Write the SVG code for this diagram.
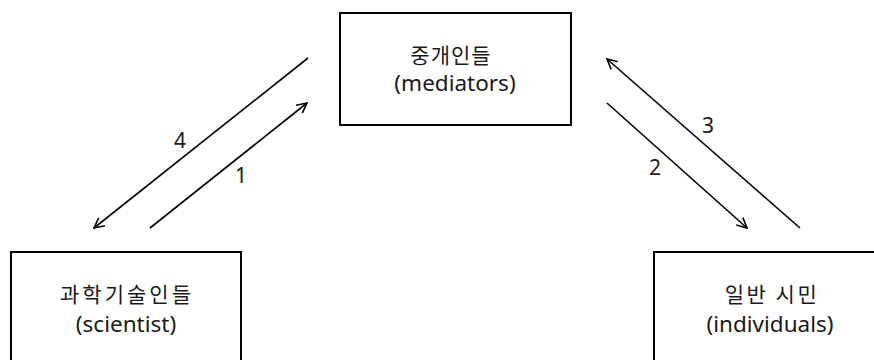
<svg xmlns="http://www.w3.org/2000/svg" width="874" height="360" viewBox="0 0 874 360">
  <style>
    .box { fill: #ffffff; stroke: #000000; stroke-width: 2; }
    .ko { font-family: "Noto Sans CJK KR", "Noto Sans", sans-serif; font-size: 21px; fill: #1a1a1a; text-anchor: middle; }
    .en { font-family: "Noto Sans", "Noto Sans CJK KR", sans-serif; font-size: 22.5px; fill: #1a1a1a; text-anchor: middle; }
    .num { font-family: "Noto Sans", "Noto Sans CJK KR", sans-serif; font-size: 21px; fill: #1a1a1a; text-anchor: middle; }
    .conn { stroke: #000000; stroke-width: 1.6; fill: none; }
  </style>
  <defs>
    <marker id="chev" viewBox="0 0 12 12" refX="11" refY="6" markerWidth="12" markerHeight="12" markerUnits="userSpaceOnUse" orient="auto">
      <path d="M1,1 L11,6 L1,11" fill="none" stroke="#000000" stroke-width="1.6"/>
    </marker>
  </defs>
  <rect width="874" height="360" fill="#ffffff"/>

  <g id="mediators">
    <rect class="box" x="340" y="13" width="231" height="112"/>
    <text class="ko" x="451" y="63" letter-spacing="1">중개인들</text>
    <text class="en" x="455" y="91">(mediators)</text>
  </g>

  <g id="scientist">
    <rect class="box" x="11" y="252" width="230" height="120"/>
    <text class="ko" x="127" y="302" letter-spacing="3">과학기술인들</text>
    <text class="en" x="126" y="332">(scientist)</text>
  </g>

  <g id="individuals">
    <rect class="box" x="654" y="252" width="240" height="120"/>
    <text class="ko" x="772" y="302" letter-spacing="2.5">일반 시민</text>
    <text class="en" x="770" y="332">(individuals)</text>
  </g>

  <g id="connectors">
    <line class="conn" x1="150" y1="228" x2="307" y2="103" marker-end="url(#chev)"/>
    <line class="conn" x1="308" y1="58" x2="94" y2="228" marker-end="url(#chev)"/>
    <line class="conn" x1="607" y1="103" x2="747" y2="228" marker-end="url(#chev)"/>
    <line class="conn" x1="800" y1="228" x2="607" y2="59" marker-end="url(#chev)"/>
    <text class="num" x="241" y="183">1</text>
    <text class="num" x="655" y="175">2</text>
    <text class="num" x="708" y="133">3</text>
    <text class="num" x="180" y="148">4</text>
  </g>
</svg>
